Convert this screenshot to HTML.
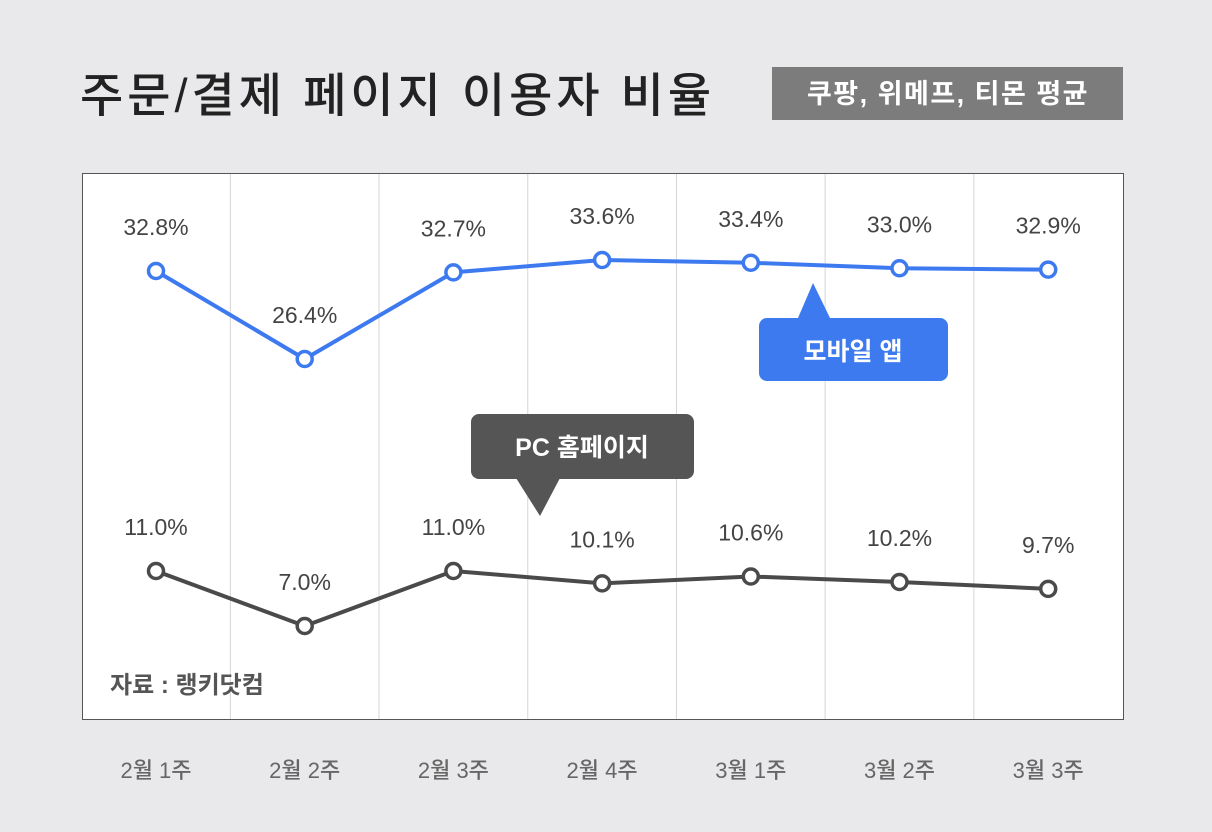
<!DOCTYPE html>
<html><head><meta charset="utf-8"><style>
body{margin:0;width:1212px;height:832px;background:#e9e9eb;overflow:hidden;font-family:"Liberation Sans","Noto Sans CJK KR",sans-serif;}
svg{position:absolute;left:0;top:0}
</style></head><body>
<svg width="1212" height="832" font-family="Liberation Sans, Noto Sans CJK KR, sans-serif">
<text x="80" y="112" font-size="47" font-weight="500" letter-spacing="4" fill="#222">주문/결제 페이지 이용자 비율</text>
<rect x="772" y="67" width="351" height="53" fill="#7c7c7c"/>
<text x="948" y="103" font-size="27" font-weight="700" letter-spacing="1.5" fill="#fff" text-anchor="middle">쿠팡, 위메프, 티몬 평균</text>
<rect x="82.5" y="173.5" width="1041" height="546" fill="#fff" stroke="#555" stroke-width="1"/>
<g id="grid"></g>
<g id="marks"></g>
<g id="xlabels"></g>
<rect x="759" y="318" width="189" height="63" rx="8" fill="#3d7af0"/>
<polygon points="798,318 813,283 830,318" fill="#3d7af0"/>
<text x="853" y="360" font-size="25" font-weight="700" fill="#fff" text-anchor="middle">모바일 앱</text>
<rect x="471" y="414" width="223" height="65" rx="8" fill="#555"/>
<polygon points="516,478 540,516 560,478" fill="#555"/>
<text x="582" y="456" font-size="25" font-weight="700" fill="#fff" text-anchor="middle">PC 홈페이지</text>
<text x="110" y="693" font-size="24" font-weight="700" fill="#555">자료 : 랭키닷컴</text>
</svg>
<script>
const categories=["2월 1주","2월 2주","2월 3주","2월 4주","3월 1주","3월 2주","3월 3주"];
const mobileValues=[32.8,26.4,32.7,33.6,33.4,33.0,32.9];
const pcValues=[11.0,7.0,11.0,10.1,10.6,10.2,9.7];
const NS="http://www.w3.org/2000/svg";
function x(i){return 156+i*148.7;}
function yMobile(v){return 271-(v-32.8)*13.75;}
function yPC(v){return 571-(v-11)*13.75;}
function mk(t,a){const e=document.createElementNS(NS,t);for(const k in a)e.setAttribute(k,a[k]);return e;}
const grid=document.getElementById('grid'),marks=document.getElementById('marks'),xl=document.getElementById('xlabels');
for(let i=0;i<categories.length-1;i++){const gx=(x(i)+x(i+1))/2;const l=mk('line',{x1:gx,x2:gx,y1:174,y2:719,stroke:'#d5d5d5','stroke-width':1});


grid.appendChild(l);}
categories.forEach((c,i)=>{const t=mk('text',{x:x(i),y:778,'font-size':22,fill:'#666','text-anchor':'middle','font-weight':'500'});t.textContent=c;


xl.appendChild(t);});
function series(vals,yf,color,name){
const p=mk('polyline',{points:vals.map((v,i)=>x(i)+','+yf(v)).join(' '),fill:'none',stroke:color,'stroke-width':4});


marks.appendChild(p);
vals.forEach((v,i)=>{const c=mk('circle',{cx:x(i),cy:yf(v),r:7.5,fill:'#fff',stroke:color,'stroke-width':3.5});


marks.appendChild(c);
const t=mk('text',{x:x(i),y:yf(v)-36,'font-size':23,fill:'#444','text-anchor':'middle'});t.textContent=v.toFixed(1)+'%';


marks.appendChild(t);});}
series(mobileValues,yMobile,'#3d7af0','mobile');
series(pcValues,yPC,'#4a4a4a','pc');
</script>
</body></html>
